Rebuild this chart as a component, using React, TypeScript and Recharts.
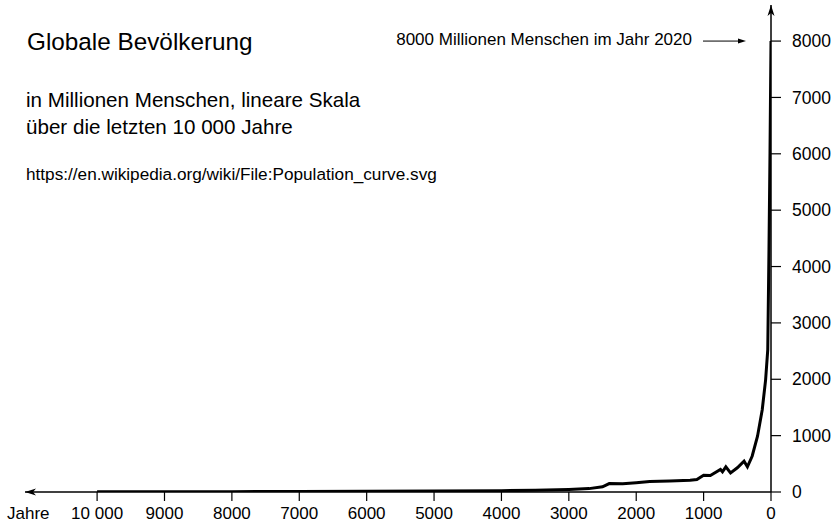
import React from 'react';
import { LineChart, Line, XAxis, YAxis, ReferenceDot } from 'recharts';

// years before 2020 and world population (millions)
const yearsAgo = [10000, 9000, 8000, 7000, 6000, 5000, 4000, 3500, 3000, 2700, 2500, 2400, 2200, 2000, 1800, 1500, 1200, 1100, 1000, 900, 750, 720, 670, 600, 500, 400, 350, 280, 200, 130, 80, 48, 30, 15, 0];
const population = [4, 5, 6, 8, 12, 16, 24, 30, 44, 60, 92, 150, 145, 165, 185, 195, 210, 220, 298, 292, 399, 358, 446, 340, 429, 546, 446, 634, 990, 1460, 1990, 2525, 4300, 6000, 8000];

const xTicks = [0, 1000, 2000, 3000, 4000, 5000, 6000, 7000, 8000, 9000, 10000];
const xTickLabels = ['0', '1000', '2000', '3000', '4000', '5000', '6000', '7000', '8000', '9000', '10 000'];
const yTicks = [0, 1000, 2000, 3000, 4000, 5000, 6000, 7000, 8000];

const title = 'Globale Bevölkerung';
const subtitle1 = 'in Millionen Menschen, lineare Skala';
const subtitle2 = 'über die letzten 10 000 Jahre';
const source = 'https://en.wikipedia.org/wiki/File:Population_curve.svg';
const annotation = '8000 Millionen Menschen im Jahr 2020';
const xLabel = 'Jahre';

// axis ends run a bit past the last tick, where the arrowheads sit
const X_MAX = 11070;
const Y_MAX = 8640;

const data = yearsAgo.map((y, i) => ({ yearsAgo: y, population: population[i] }));

const LeftArrow = ({ cx, cy }: any) => (
    <path d={`M${cx},${cy} L${cx + 11},${cy - 3.5} L${cx + 8},${cy} L${cx + 11},${cy + 3.5} Z`} fill="#000" />
);

const UpArrow = ({ cx, cy }: any) => (
    <path d={`M${cx},${cy} L${cx - 3.5},${cy + 11} L${cx},${cy + 8} L${cx + 3.5},${cy + 11} Z`} fill="#000" />
);

const Annotation = ({ cx, cy }: any) => (
    <g>
        <text x={cx - 79} y={cy + 4} textAnchor="end" fontSize={17} fill="#000">{annotation}</text>
        <line x1={cx - 68} y1={cy} x2={cx - 30} y2={cy} stroke="#000" strokeWidth={1} />
        <path d={`M${cx - 25},${cy} L${cx - 33},${cy - 2.5} L${cx - 33},${cy + 2.5} Z`} fill="#000" />
    </g>
);

const App = () => {
    return (
        <div style={{ position: 'absolute', left: 0, top: 0, width: 834, height: 524, background: '#fff', fontFamily: '"Liberation Sans", Arial, sans-serif' }}>
            <LineChart width={834} height={524} data={data} margin={{ top: 5, right: 3, left: 25, bottom: 2 }}>
                <XAxis
                    type="number"
                    dataKey="yearsAgo"
                    domain={[0, X_MAX]}
                    reversed
                    allowDataOverflow
                    ticks={xTicks}
                    interval={0}
                    tickFormatter={(v: number) => xTickLabels[xTicks.indexOf(v)]}
                    axisLine={{ stroke: '#000', strokeWidth: 1.5 }}
                    tickLine={{ stroke: '#000', strokeWidth: 1.2 }}
                    tickSize={9}
                    tickMargin={6}
                    tick={{ fill: '#000', fontSize: 17 }}
                    height={30}
                />
                <YAxis
                    orientation="right"
                    type="number"
                    domain={[0, Y_MAX]}
                    allowDataOverflow
                    ticks={yTicks}
                    interval={0}
                    axisLine={{ stroke: '#000', strokeWidth: 1.5 }}
                    tickLine={{ stroke: '#000', strokeWidth: 1.2 }}
                    tickSize={10}
                    tickMargin={11}
                    tick={{ fill: '#000', fontSize: 17.5, textAnchor: 'start' }}
                    width={60}
                />
                <Line
                    type="linear"
                    dataKey="population"
                    stroke="#000"
                    strokeWidth={3}
                    dot={false}
                    activeDot={false}
                    isAnimationActive={false}
                />
                <ReferenceDot x={X_MAX} y={0} ifOverflow="visible" shape={LeftArrow} />
                <ReferenceDot x={0} y={Y_MAX} ifOverflow="visible" shape={UpArrow} />
                <ReferenceDot x={0} y={8000} ifOverflow="visible" shape={Annotation} />
            </LineChart>
            <svg width={834} height={524} style={{ position: 'absolute', left: 0, top: 0, pointerEvents: 'none' }}>
                <text x={27} y={50} fontSize={24.3} fill="#000">{title}</text>
                <text x={26} y={107} fontSize={20.6} fill="#000">{subtitle1}</text>
                <text x={26} y={134} fontSize={20.6} fill="#000">{subtitle2}</text>
                <text x={26} y={180} fontSize={17.2} fill="#000">{source}</text>
                <text x={7} y={519} fontSize={17} fill="#000">{xLabel}</text>
            </svg>
        </div>
    );
};

export default App;
